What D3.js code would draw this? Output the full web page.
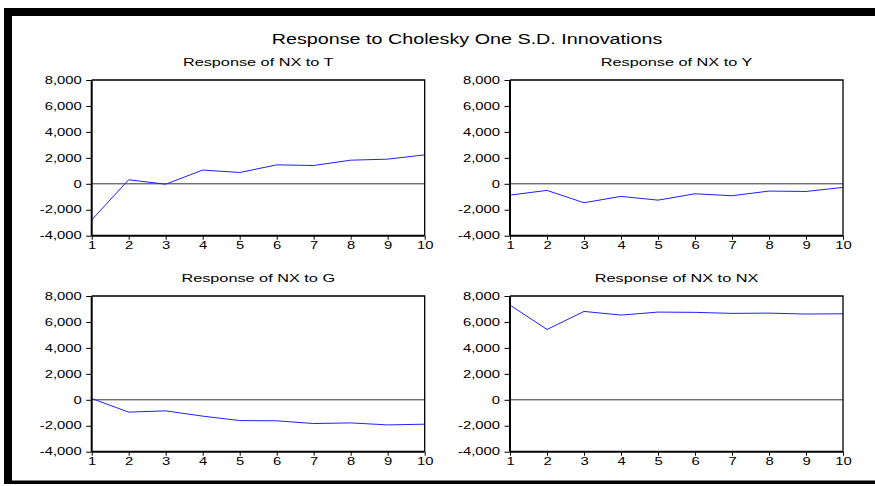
<!DOCTYPE html>
<html>
<head>
<meta charset="utf-8">
<script src="https://cdn.jsdelivr.net/npm/d3@7"></script>
<style>
  html, body { margin: 0; padding: 0; background: #fff; }
  svg { display: block; font-family: "Liberation Sans", Arial, sans-serif; }
</style>
</head>
<body>
<svg id="chart" width="875" height="486"></svg>
<script>
const mainTitle = 'Response to Cholesky One S.D. Innovations';
const periods = [1, 2, 3, 4, 5, 6, 7, 8, 9, 10];
const yTicks = [-4000, -2000, 0, 2000, 4000, 6000, 8000];
const panelTitles = ['Response of NX to T', 'Response of NX to Y', 'Response of NX to G', 'Response of NX to NX'];

// impulse responses
const nxToT = [-2780, 310, -30, 1060, 870, 1460, 1410, 1820, 1900, 2230];
const nxToY = [-870, -510, -1460, -970, -1260, -770, -920, -560, -590, -280];
const nxToG = [100, -950, -850, -1260, -1600, -1620, -1830, -1780, -1935, -1880];
const nxToNX = [7300, 5420, 6810, 6530, 6760, 6740, 6660, 6680, 6610, 6630];

const series = [nxToT, nxToY, nxToG, nxToNX];

const svg = d3.select('#chart');
const SX = 1.48; // text is stretched sideways in the original
const fmt = d3.formatLocale({ decimal: '.', thousands: ',', grouping: [3], currency: ['', ''], minus: '-' }).format(',');

// frame
svg.append('rect').attr('x', 4).attr('y', 8).attr('width', 880).attr('height', 8).attr('fill', '#000');
svg.append('rect').attr('x', 4).attr('y', 8).attr('width', 8).attr('height', 476).attr('fill', '#000');
svg.append('rect').attr('x', 4).attr('y', 480.5).attr('width', 880).attr('height', 3.5).attr('fill', '#000');

svg.append('text')
  .attr('transform', `translate(467,44) scale(1.41,1)`)
  .attr('text-anchor', 'middle')
  .attr('font-size', 14)
  .attr('fill', '#000')
  .text(mainTitle);

const cols = [91.7, 510];
const rows = [80, 296];
const pw = 333, ph = 155.7;

series.forEach((vals, i) => {
  const x0 = cols[i % 2], y0 = rows[Math.floor(i / 2)];
  const g = svg.append('g').attr('transform', `translate(${x0},${y0})`);

  const x = d3.scaleLinear().domain([1, 10]).range([0, pw]);
  const y = d3.scaleLinear().domain([-4000, 8000]).range([ph, 0]);

  g.append('text')
    .attr('transform', `translate(${pw / 2},-14) scale(${SX},1)`)
    .attr('text-anchor', 'middle')
    .attr('font-size', 11)
    .attr('fill', '#000')
    .text(panelTitles[i]);

  // zero line
  g.append('line')
    .attr('x1', 0).attr('x2', pw)
    .attr('y1', y(0)).attr('y2', y(0))
    .attr('stroke', '#333').attr('stroke-width', 1);

  g.append('path')
    .datum(vals)
    .attr('fill', 'none')
    .attr('stroke', '#2020ff')
    .attr('stroke-width', 1)
    .attr('d', d3.line().x((d, j) => x(periods[j])).y(d => y(d)));

  // top / right border
  g.append('path')
    .attr('d', `M0,0H${pw}V${ph}`)
    .attr('fill', 'none').attr('stroke', '#000').attr('stroke-width', 1.3);

  const ya = g.append('g')
    .call(d3.axisLeft(y).tickValues(yTicks).tickFormat(fmt).tickSize(5.5).tickPadding(4));
  ya.select('.domain').attr('stroke-width', 2).attr('d', `M0,0V${ph}`);
  ya.selectAll('.tick line').attr('stroke-width', 1);
  ya.selectAll('.tick text')
    .attr('font-size', 10).attr('font-family', null)
    .attr('x', -10 / SX)
    .attr('transform', `scale(${SX},1)`);

  const xa = g.append('g')
    .attr('transform', `translate(0,${ph})`)
    .call(d3.axisBottom(x).tickValues(periods).tickFormat(d3.format('d')).tickSize(4).tickPadding(2.5));
  xa.select('.domain').attr('stroke-width', 2).attr('d', `M0,0H${pw}`);
  xa.selectAll('.tick text')
    .attr('font-size', 10).attr('font-family', null)
    .attr('transform', `scale(${SX},1)`);
});
</script>
</body>
</html>
